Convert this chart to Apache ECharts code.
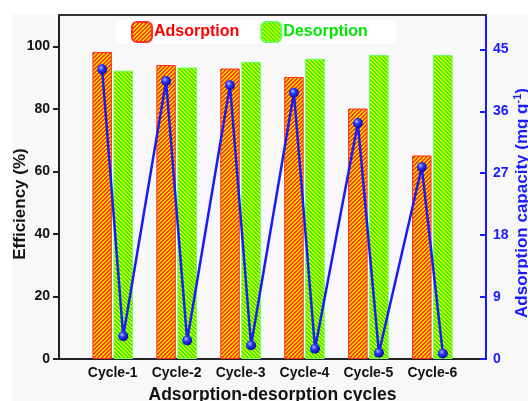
<!DOCTYPE html>
<html>
<head>
<meta charset="utf-8">
<script src="https://cdn.jsdelivr.net/npm/echarts@6/dist/echarts.min.js"></script>
<style>
  html, body { margin: 0; padding: 0; background: #ffffff; }
  #chart { width: 528px; height: 401px; }
</style>
</head>
<body>
<div id="chart"></div>
<script>
// Cycle names and measured values
const cycles = ['Cycle-1', 'Cycle-2', 'Cycle-3', 'Cycle-4', 'Cycle-5', 'Cycle-6'];
const adsorptionEff = [98.2, 94.0, 92.9, 90.2, 80.1, 65.1];     // %
const desorptionEff = [92.2, 93.2, 95.0, 96.0, 97.2, 97.2];     // %
const capacityAfterAds = [42.1, 40.4, 39.8, 38.7, 34.3, 27.9];  // mg g-1
const capacityAfterDes = [3.3, 2.7, 2.0, 1.5, 0.9, 0.8];        // mg g-1
const effTicks = [0, 20, 40, 60, 80, 100];
const capTicks = [0, 9, 18, 27, 36, 45];

const FONT = 'Liberation Sans, Arial, sans-serif';
const BLUE = '#1a1aff';
// half-distance between the adsorption and desorption bar of one cycle, in cycle units
const STAGE_SHIFT = 0.165;

// diagonal hatch fill; dir = 1 draws '/' stripes, dir = -1 draws '\' stripes
function hatch(base, stripe, dir) {
  const n = 4;
  const c = document.createElement('canvas');
  c.width = n; c.height = n;
  const ctx = c.getContext('2d');
  for (let x = 0; x < n; x++) {
    for (let y = 0; y < n; y++) {
      const k = dir > 0 ? (x + y) % n : ((x - y) % n + n) % n;
      ctx.fillStyle = k < 2 ? stripe : base;
      ctx.fillRect(x, y, 1, 1);
    }
  }
  return { image: c, repeat: 'repeat' };
}

const adsFill = hatch('#ff3a00', '#ffd400', 1);
const desFill = hatch('#33ee00', '#d8ff00', -1);

const xOf = i => i + 1;
const capacityLine = [];
cycles.forEach((_, i) => {
  capacityLine.push([xOf(i) - STAGE_SHIFT, capacityAfterAds[i]]);
  capacityLine.push([xOf(i) + STAGE_SHIFT, capacityAfterDes[i]]);
});

const chart = echarts.init(document.getElementById('chart'), null, { renderer: 'canvas' });

chart.setOption({
  backgroundColor: '#ffffff',
  animation: false,
  textStyle: { fontFamily: FONT },
  graphic: [{
    type: 'rect', z: -10, silent: true,
    shape: { x: 12, y: 14, width: 516, height: 387 },
    style: { fill: '#f8f8f8' }
  }],
  grid: { left: 59, right: 42, top: 15, bottom: 42, containLabel: false, outerBoundsMode: 'none' },
  legend: {
    left: 116, top: 20,
    padding: [1, 28, 1, 15],
    backgroundColor: '#ffffff',
    itemWidth: 20, itemHeight: 20, itemGap: 21,
    textStyle: { fontSize: 16, fontWeight: 'bold', fontFamily: FONT, padding: [0, 0, 0, -3] },
    data: [
      { name: 'Adsorption', textStyle: { color: '#ff0000' } },
      { name: 'Desorption', textStyle: { color: '#00e600' } }
    ]
  },
  xAxis: [{
    type: 'value',
    min: 1 - 0.84, max: cycles.length + 0.84,
    name: 'Adsorption-desorption cycles',
    nameLocation: 'middle', nameGap: 27,
    nameTextStyle: { fontSize: 17.5, fontWeight: 'bold', color: '#111', fontFamily: FONT },
    axisLine: { show: true, onZero: false, lineStyle: { color: '#222', width: 2 } },
    axisTick: { show: false },
    splitLine: { show: false },
    axisLabel: {
      customValues: cycles.map((_, i) => xOf(i)),
      formatter: v => cycles[Math.round(v) - 1] || '',
      fontSize: 14, fontWeight: 'bold', color: '#111', margin: 7, fontFamily: FONT
    }
  }, {
    type: 'value', position: 'top',
    min: 1 - 0.84, max: cycles.length + 0.84,
    axisLine: { show: true, onZero: false, lineStyle: { color: '#333', width: 2 } },
    axisTick: { show: false }, axisLabel: { show: false }, splitLine: { show: false }
  }],
  yAxis: [{
    type: 'value', position: 'left',
    min: effTicks[0], max: 110, interval: effTicks[1] - effTicks[0],
    name: 'Efficiency (%)',
    nameLocation: 'middle', nameGap: 30, nameRotate: 90, nameMoveOverlap: false,
    nameTextStyle: { fontSize: 17, fontWeight: 'bold', color: '#111', fontFamily: FONT, padding: [0, 34, 0, 0] },
    axisLine: { show: true, onZero: false, lineStyle: { color: '#222', width: 2 } },
    axisTick: { show: true, inside: false, length: 6, lineStyle: { color: '#222', width: 2 } },
    splitLine: { show: false },
    axisLabel: {
      showMaxLabel: false,
      fontSize: 14, fontWeight: 'bold', color: '#111', margin: 9, fontFamily: FONT,
      formatter: v => effTicks.includes(v) ? String(v) : ''
    }
  }, {
    type: 'value', position: 'right',
    min: capTicks[0], max: 50, interval: capTicks[1] - capTicks[0],
    name: 'Adsorption capacity (mg g{sup|-1})',
    nameLocation: 'middle', nameGap: 26, nameRotate: 90, nameMoveOverlap: false,
    nameTextStyle: {
      fontSize: 17, fontWeight: 'bold', color: BLUE, fontFamily: FONT, padding: [0, 32, 0, 0],
      rich: { sup: { fontSize: 11, fontWeight: 'bold', color: BLUE, verticalAlign: 'top', padding: [0, 0, 9, 0] } }
    },
    axisLine: { show: true, onZero: false, lineStyle: { color: BLUE, width: 2 } },
    axisTick: { show: true, inside: true, length: 6, lineStyle: { color: BLUE, width: 2 } },
    splitLine: { show: false },
    axisLabel: {
      showMaxLabel: false,
      fontSize: 14, fontWeight: 'bold', color: BLUE, margin: 7, fontFamily: FONT,
      formatter: v => capTicks.includes(v) ? String(v) : ''
    }
  }],
  series: [{
    name: 'Adsorption', type: 'bar', xAxisIndex: 0, yAxisIndex: 0,
    barWidth: 19.5, barGap: '8%',
    itemStyle: { color: adsFill, borderColor: '#ff3030', borderWidth: 1 },
    data: adsorptionEff.map((v, i) => [xOf(i), v])
  }, {
    name: 'Desorption', type: 'bar', xAxisIndex: 0, yAxisIndex: 0,
    barWidth: 19.5, barGap: '8%',
    itemStyle: { color: desFill, borderColor: '#66ff55', borderWidth: 1 },
    data: desorptionEff.map((v, i) => [xOf(i), v])
  }, {
    name: 'Capacity', type: 'line', xAxisIndex: 0, yAxisIndex: 1,
    z: 5,
    lineStyle: { color: BLUE, width: 2.5 },
    symbol: 'circle', symbolSize: 10,
    itemStyle: {
      color: {
        type: 'radial', x: 0.38, y: 0.35, r: 0.7,
        colorStops: [
          { offset: 0, color: '#b8c0ff' },
          { offset: 0.35, color: '#2d3cff' },
          { offset: 1, color: '#0000a0' }
        ]
      },
      borderWidth: 0
    },
    data: capacityLine
  }]
});
</script>
</body>
</html>
